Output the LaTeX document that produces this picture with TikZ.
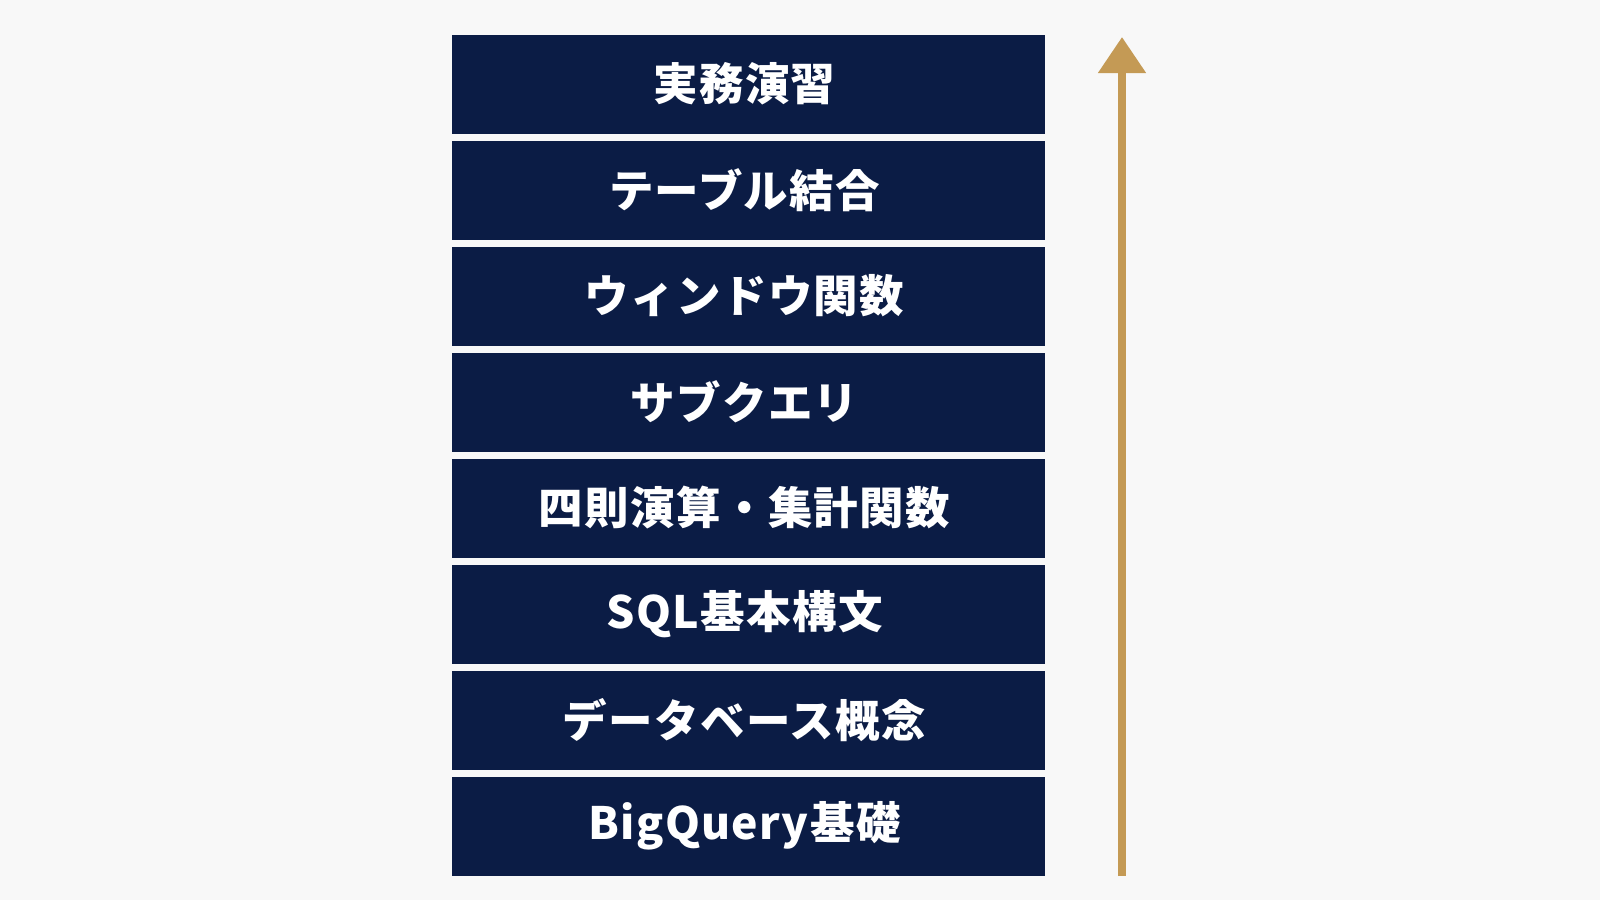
\documentclass[tikz,border=0pt]{standalone}
\usepackage{fontspec}
\setmainfont{Noto Sans CJK JP}[LetterSpace=3]
\usetikzlibrary{arrows.meta}
\definecolor{navy}{HTML}{0B1C45}
\definecolor{gold}{HTML}{C49A55}
\definecolor{bg}{HTML}{F8F8F8}
\tikzset{
  level/.style={fill=navy, draw=none, minimum width=593pt, minimum height=99pt, inner sep=0pt,
    text=white, font=\fontsize{44.5}{50}\selectfont\bfseries, anchor=center},
  progress/.style={draw=gold, line width=8pt, -{Triangle[width=46pt,length=36pt]}}
}
\newcommand{\lbl}[1]{#1\hspace*{8pt}}
\begin{document}
\begin{tikzpicture}[x=1pt,y=-1pt]
\fill[bg] (0,0) rectangle (1600,900);
\useasboundingbox (0,0) rectangle (1600,900);
\node[level] (l8) at (748.5,84) {\lbl{実務演習}};
\node[level] (l7) at (748.5,190) {\lbl{テーブル結合}};
\node[level] (l6) at (748.5,296) {\lbl{ウィンドウ関数}};
\node[level] (l5) at (748.5,402) {\lbl{サブクエリ}};
\node[level] (l4) at (748.5,508) {\lbl{四則演算・集計関数}};
\node[level] (l3) at (748.5,614) {\lbl{SQL基本構文}};
\node[level] (l2) at (748.5,720) {\lbl{データベース概念}};
\node[level] (l1) at (748.5,826) {\lbl{BigQuery基礎}};
\coordinate (abot) at (1122,876);
\coordinate (atop) at (1122,37);
\draw[progress] (abot) -- (atop);
\end{tikzpicture}
\end{document}
